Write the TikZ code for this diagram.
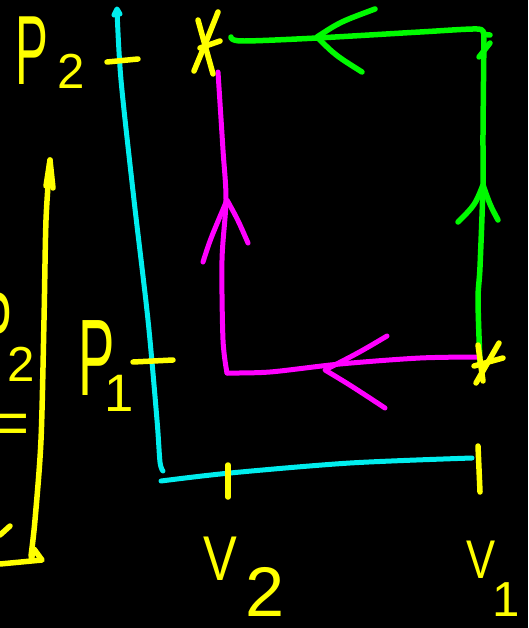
\documentclass[tikz,border=0pt]{standalone}
\usepackage{fontspec}
\newfontfamily\handfont[FakeStretch=0.5]{Liberation Sans}
\newfontfamily\vfont[FakeStretch=0.8]{Liberation Sans}
\newfontfamily\digitfont{Liberation Sans}
\definecolor{penyellow}{RGB}{255,255,0}
\definecolor{pencyan}{RGB}{0,238,238}
\definecolor{penmagenta}{RGB}{255,0,255}
\definecolor{pengreen}{RGB}{0,250,0}

\begin{document}
\begin{tikzpicture}[x=0.02cm,y=-0.02cm,
 ink/.style={line width=0.1cm,line cap=round,line join=round},
 axis/.style={ink,draw=pencyan},
 pvpath/.style={ink,draw=penmagenta},
 hotpath/.style={ink,draw=pengreen,line width=0.11cm},
 yel/.style={ink,draw=penyellow,line width=0.11cm},
 lbl/.style={text=penyellow,inner sep=0pt,anchor=base west}]
\fill[black] (0,0) rectangle (528,628);
\useasboundingbox (0,0) rectangle (528,628);
\clip (0,0) rectangle (528,628);

% axes
\draw[axis] plot[smooth] coordinates {(117,10) (121,80) (134,200) (148,320) (157,420) (160,462) (163,471)};
\draw[axis] (114,15)--(117,9)--(120,14);
\draw[axis] plot[smooth] coordinates {(161,481) (230,473) (350,463) (472,458)};

% ticks
\draw[yel] (107,62)--(138,59);
\draw[yel] (133,362)--(173,360);
\draw[yel] (228,465)--(228,497);
\draw[yel] (478,446)--(480,492);

% compression path (magenta)
\coordinate (mtop) at (218,72);
\coordinate (mtip) at (227,200);
\coordinate (mcorner) at (227,373);
\coordinate (mright) at (480,357);
\coordinate (mleft) at (325,370);
\draw[pvpath] plot[smooth] coordinates {(mtop) (223,150) (226,200) (222,260) (223,340) (mcorner)};
\draw[pvpath] plot[smooth] coordinates {(mcorner) (270,372) (340,364) (420,358) (mright)};
\draw[pvpath] (203,262) .. controls (210,240) .. (mtip) .. controls (238,220) .. (248,243);
\draw[pvpath] (387,336) .. controls (360,352) .. (mleft) .. controls (350,385) .. (385,408);

% heating path (green)
\coordinate (gleft) at (231,37);
\coordinate (gcorner) at (484,34);
\coordinate (gbottom) at (480,363);
\coordinate (gtip) at (317,37);
\coordinate (gup) at (483,185);
\draw[hotpath] plot[smooth] coordinates {(gleft) (242,41) (317,38) (420,32) (477,29) (gcorner) (490,35)};
\draw[hotpath] plot[smooth] coordinates {(gcorner) (483,133) (gup) (480,267) (478,300) (gbottom)};
\draw[hotpath] (375,9) .. controls (340,22) .. (gtip) .. controls (335,55) .. (362,72);
\draw[hotpath] (458,222) .. controls (475,205) .. (gup) .. controls (490,205) .. (498,220);
\draw[hotpath] (479,57)--(490,43);

% state marks
\draw[yel] plot[smooth] coordinates {(218,12) (206,42) (194,71)};
\draw[yel] (198,20)--(213,74);
\draw[yel] (200,48)--(220,41);
\draw[yel] (499,343)--(476,383);
\draw[yel] (478,345)--(483,381);
\draw[yel] (474,366)--(503,358);

% labels
\node[lbl,font=\handfont\fontsize{56}{56}\selectfont] (ptwo) at (15,85) {P};
\node[lbl,font=\digitfont\fontsize{28}{28}\selectfont] (ptwoidx) at (57,89) {2};
\node[lbl,font=\handfont\fontsize{62}{62}\selectfont] (pone) at (78,395) {P};
\node[lbl,font=\digitfont\fontsize{30}{30}\selectfont] (poneidx) at (104,411) {1};
\node[lbl,font=\vfont\fontsize{36}{36}\selectfont] (vtwo) at (203,580) {V};
\node[lbl,font=\digitfont\fontsize{40}{40}\selectfont] (vtwoidx) at (245,616) {2};
\node[lbl,font=\vfont\fontsize{31}{31}\selectfont] (vone) at (466,578) {V};
\node[lbl,font=\digitfont\fontsize{28}{28}\selectfont] (voneidx) at (492,616) {1};

% cut-off note on the left
\node[lbl,anchor=base east,font=\handfont\fontsize{56}{56}\selectfont] (pleft) at (13,360) {P};
\node[lbl,font=\digitfont\fontsize{28}{28}\selectfont] (pleftidx) at (7,381) {2};
\node[lbl,anchor=center,font=\digitfont\fontsize{34}{34}\selectfont] (eqleft) at (12,429) {=};
\draw[yel] (0,535)--(10,526);
\draw[yel] plot[smooth] coordinates {(50,160) (46,220) (44,320) (41,440) (35,520) (31,556)};
\draw[yel] (46,186)--(50,160)--(53,188);
\draw[yel] (0,564)--(42,560)--(34,549)--(31,560);
\end{tikzpicture}
\end{document}
